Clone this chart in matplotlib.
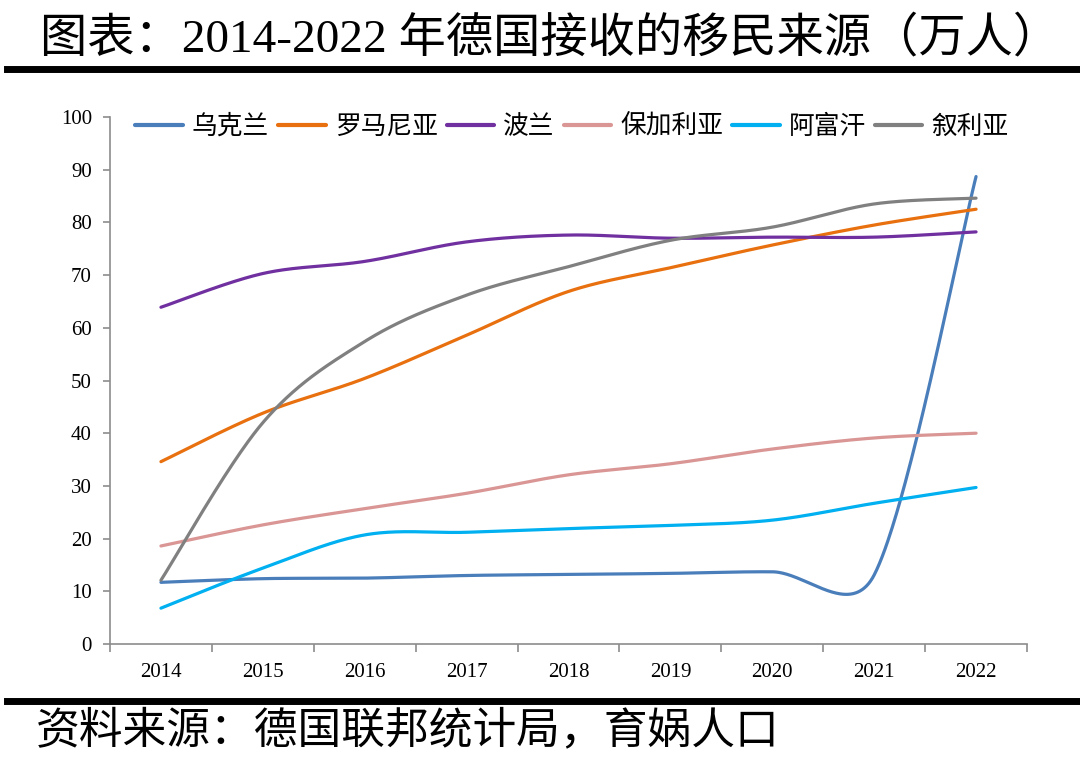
import numpy as np
import matplotlib
matplotlib.use("Agg")
import matplotlib.pyplot as plt
from matplotlib.lines import Line2D
from matplotlib.ticker import FixedLocator, NullFormatter

# ---------------- data ----------------
years = ['2014', '2015', '2016', '2017', '2018', '2019', '2020', '2021', '2022']
series_names = ['乌克兰', '罗马尼亚', '波兰', '保加利亚', '阿富汗', '叙利亚']
ukraine = [11.7, 12.4, 12.5, 13.0, 13.2, 13.4, 13.7, 13.1, 88.7]
romania = [34.6, 43.8, 50.4, 58.6, 66.9, 71.4, 75.7, 79.5, 82.5]
poland = [63.9, 70.3, 72.6, 76.3, 77.6, 77.0, 77.2, 77.2, 78.2]
bulgaria = [18.6, 22.6, 25.7, 28.6, 32.1, 34.2, 37.0, 39.1, 40.0]
afghanistan = [6.8, 14.4, 20.7, 21.2, 21.9, 22.5, 23.5, 26.7, 29.7]
syria = [12.1, 42.0, 57.4, 66.2, 71.6, 76.6, 79.1, 83.5, 84.6]
y_ticks = [0, 10, 20, 30, 40, 50, 60, 70, 80, 90, 100]

colors = ['#4A7EBB', '#E8700F', '#7030A0', '#D99694', '#00B0F0', '#808080']

CJK = 'Noto Sans CJK SC'
SERIF = 'Liberation Serif'

W, H = 1080, 759
fig = plt.figure(figsize=(W / 100, H / 100), dpi=100)
fig.patch.set_facecolor('white')

# axes placement in pixels
left_px, right_px, top_px, bottom_px = 110, 1027, 117, 644
ax = fig.add_axes([left_px / W, 1 - bottom_px / H,
                   (right_px - left_px) / W, (bottom_px - top_px) / H])
x = np.arange(len(years))
ax.set_xlim(-0.5, len(years) - 0.5)
ax.set_ylim(0, 100)


def smooth_curve(ax, xs, ys, n=80):
    """Excel-like smoothed line (Bezier, tension 1/6, arm clamped to half segment)."""
    pts = ax.transData.transform(np.column_stack([xs, ys]))
    N = len(pts)
    out = []
    t = np.linspace(0, 1, n)[:, None]
    for i in range(N - 1):
        p1, p2 = pts[i], pts[i + 1]
        p0 = pts[i - 1] if i > 0 else p1
        p3 = pts[i + 2] if i + 2 < N else p2
        d12 = np.linalg.norm(p2 - p1)
        a1 = (p2 - p0) / 6.0
        a2 = (p3 - p1) / 6.0
        l1 = np.linalg.norm(a1)
        l2 = np.linalg.norm(a2)
        if l1 > d12 / 2:
            a1 = a1 * (d12 / 2) / l1
        if l2 > d12 / 2:
            a2 = a2 * (d12 / 2) / l2
        c1 = p1 + a1
        c2 = p2 - a2
        seg = ((1 - t) ** 3) * p1 + 3 * ((1 - t) ** 2) * t * c1 + 3 * (1 - t) * t ** 2 * c2 + t ** 3 * p2
        out.append(seg if i == 0 else seg[1:])
    out = np.vstack(out)
    data = ax.transData.inverted().transform(out)
    return data[:, 0], data[:, 1]


all_series = [ukraine, romania, poland, bulgaria, afghanistan, syria]
for name, vals, c in zip(series_names, all_series, colors):
    sx, sy = smooth_curve(ax, x, vals)
    ax.plot(sx, sy, color=c, lw=2.3, label=name, solid_capstyle='round', clip_on=False)

# spines
for s in ['top', 'right']:
    ax.spines[s].set_visible(False)
for s in ['left', 'bottom']:
    ax.spines[s].set_color('#8C8C8C')
    ax.spines[s].set_linewidth(1.2)

ax.set_yticks(y_ticks)
ax.set_yticklabels([str(v) for v in y_ticks], fontfamily=SERIF, fontsize=15)
ax.tick_params(axis='y', direction='out', length=5, width=1.2, color='#8C8C8C', pad=8)

ax.set_xticks(x)
ax.set_xticklabels(years, fontfamily=SERIF, fontsize=15)
ax.tick_params(axis='x', which='major', length=0, pad=14)
ax.xaxis.set_minor_locator(FixedLocator(np.arange(-0.5, len(years), 1.0)))
ax.xaxis.set_minor_formatter(NullFormatter())
ax.tick_params(axis='x', which='minor', direction='out', length=6, width=1.2, color='#8C8C8C')

# legend
leg = fig.legend(loc='center', bbox_to_anchor=(572 / W, 1 - 127 / H), ncol=6,
                 frameon=False, handlelength=1.85, handletextpad=0.35, columnspacing=0.35,
                 prop={'family': CJK, 'size': 18.5, 'weight': 'medium'})
for h in leg.get_lines():
    h.set_linewidth(3)

# title and source
fig.text(40 / W, 1 - 39 / H, '图表：2014-2022 年德国接收的移民来源（万人）',
         fontsize=34, family=[SERIF, CJK], va='center', ha='left')
fig.text(36 / W, 1 - 730 / H, '资料来源：德国联邦统计局，育娲人口',
         fontsize=31.5, family=[CJK], style='italic', va='center', ha='left')

# thick rules
fig.add_artist(Line2D([7 / W, 1077 / W], [1 - 68.5 / H] * 2, lw=5, color='black'))
fig.add_artist(Line2D([7 / W, 1077 / W], [1 - 700.5 / H] * 2, lw=5, color='black'))

fig.savefig('out.png', dpi=100, facecolor='white')
